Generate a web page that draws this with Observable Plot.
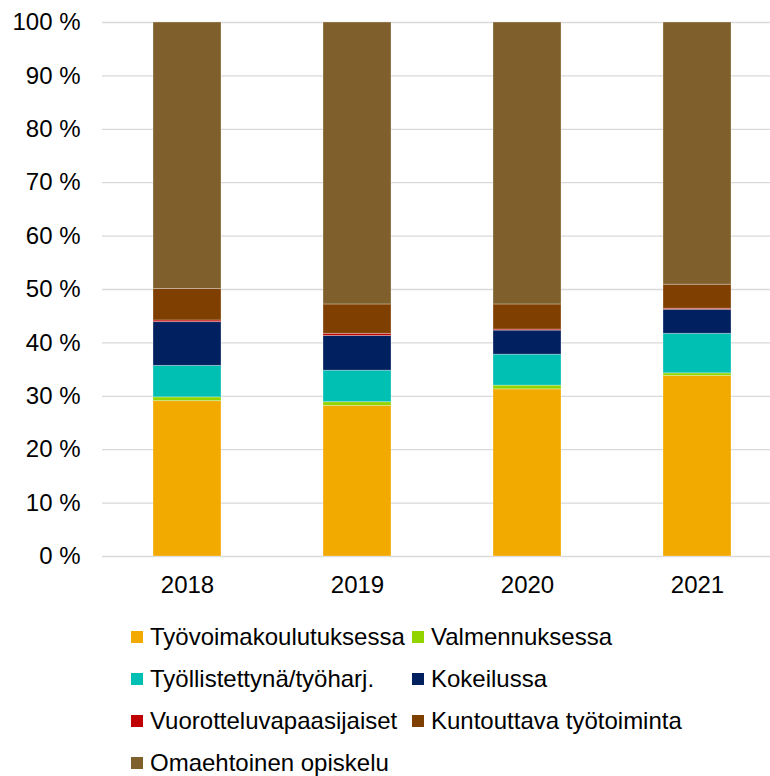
<!DOCTYPE html>
<html>
<head>
<meta charset="utf-8">
<script src="https://cdn.jsdelivr.net/npm/d3@7"></script>
<script src="https://cdn.jsdelivr.net/npm/@observablehq/plot@0.6"></script>
<style>
  html, body { margin: 0; padding: 0; background: #fff; }
  body { width: 770px; height: 776px; position: relative; overflow: hidden; font-family: "Liberation Sans", Arial, sans-serif; }
  #chart { position: absolute; left: 0; top: 0; }
  #legend { position: absolute; left: 0; top: 0; width: 770px; height: 776px; pointer-events: none; }
  .item { position: absolute; display: flex; align-items: center; font-size: 24px; color: #000; white-space: nowrap; transform: translateY(-50%); }
  .sw { width: 12px; height: 12px; margin-right: 7px; flex: none; }
</style>
</head>
<body>
<div id="chart"></div>
<div id="legend"></div>
<script>
const years = ["2018", "2019", "2020", "2021"];
const series = [
  "Työvoimakoulutuksessa",
  "Valmennuksessa",
  "Työllistettynä/työharj.",
  "Kokeilussa",
  "Vuorotteluvapaasijaiset",
  "Kuntouttava työtoiminta",
  "Omaehtoinen opiskelu"
];
const colors = ["#F2A900", "#92D400", "#00BFB3", "#002060", "#C00000", "#7F3F00", "#7F5F2B"];
const values = {
  "Työvoimakoulutuksessa":   [29.1, 28.2, 31.3, 33.8],
  "Valmennuksessa":          [0.7, 0.7, 0.7, 0.5],
  "Työllistettynä/työharj.": [5.9, 5.9, 5.8, 7.4],
  "Kokeilussa":              [8.2, 6.5, 4.5, 4.5],
  "Vuorotteluvapaasijaiset": [0.3, 0.4, 0.2, 0.2],
  "Kuntouttava työtoiminta": [5.9, 5.5, 4.7, 4.5],
  "Omaehtoinen opiskelu":    [49.9, 52.8, 52.8, 49.1]
};
const yTicks = [0, 10, 20, 30, 40, 50, 60, 70, 80, 90, 100];

const data = [];
series.forEach(s => years.forEach((y, i) => data.push({year: y, series: s, value: values[s][i]})));

const chart = Plot.plot({
  width: 770,
  height: 600,
  marginLeft: 102,
  marginRight: 0,
  marginTop: 22,
  marginBottom: 44,
  style: {fontFamily: '"Liberation Sans", Arial, sans-serif', fontSize: "24px", color: "#000", background: "#fff"},
  x: {domain: years, range: [102, 782], paddingInner: 0.6, paddingOuter: 0.3, label: null},
  y: {domain: [0, 100], label: null},
  color: {domain: series, range: colors},
  marks: [
    Plot.ruleY(yTicks, {stroke: "#d9d9d9", strokeWidth: 1.3}),
    Plot.barY(data, Plot.stackY({order: null}, {
      x: "year", y: "value", fill: "series", z: "series",
      stroke: "#fff", strokeOpacity: 0.3, strokeWidth: 1
    })),
    Plot.axisY({ticks: yTicks, tickSize: 0, tickPadding: 22, tickFormat: d => d + " %", fontSize: "24px"}),
    Plot.axisX({tickSize: 0, tickPadding: 19, fontSize: "24px"})
  ]
});
document.getElementById("chart").appendChild(chart);

// HTML legend below the plot
const legend = document.getElementById("legend");
const colX = [131, 412];
const rowY = [637, 679, 721, 763];
series.forEach((s, i) => {
  const div = document.createElement("div");
  div.className = "item";
  div.style.left = colX[i % 2] + "px";
  div.style.top = rowY[Math.floor(i / 2)] + "px";
  const sw = document.createElement("span");
  sw.className = "sw";
  sw.style.background = colors[i];
  const t = document.createElement("span");
  t.textContent = s;
  div.appendChild(sw);
  div.appendChild(t);
  legend.appendChild(div);
});
</script>
</body>
</html>
